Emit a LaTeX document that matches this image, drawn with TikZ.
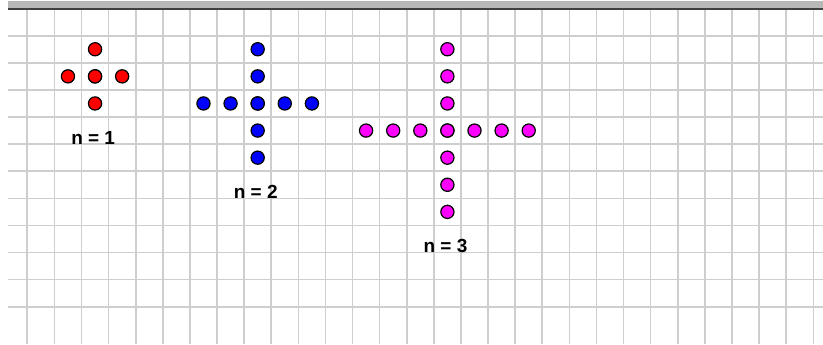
\documentclass[tikz,border=0pt]{standalone}
\usepackage{fontspec}
\setmainfont{Liberation Sans}
\usepackage{xcolor}
\usepackage{tikz}
\usetikzlibrary{positioning, calc}

\definecolor{gridgray}{RGB}{206,206,206}
\definecolor{bargray}{RGB}{184,184,184}
\definecolor{bardark}{RGB}{64,64,64}
\definecolor{dotred}{RGB}{255,0,0}
\definecolor{dotblue}{RGB}{0,0,255}
\definecolor{dotpink}{RGB}{255,0,255}

\begin{document}
\begin{tikzpicture}[x=6.775mm, y=-6.775mm,
    gridline/.style={draw=gridgray, line width=0.4mm},
    dot/.style={circle, draw=black, line width=0.3mm, inner sep=0pt, minimum size=3.3mm},
    lbl/.style={font=\fontsize{13.5}{15}\selectfont\bfseries, inner sep=0pt}]
  \useasboundingbox (-1.007, -0.317) rectangle (29.358, 12.376);
  % top bar
  \fill[bargray] (-0.71, -0.28) rectangle (29.358, 0);
  \draw[bardark, line width=0.5mm] (-0.71, 0) -- (29.358, 0);
  % grid
  \foreach \k in {0,...,29}
    \draw[gridline] (\k, 0.04) -- (\k, 12.376);
  \foreach \j in {1,...,11}
    \draw[gridline] (-0.71, \j) -- (29.358, \j);
  % crosses
  \foreach \n/\cx/\col in {1/2.5/dotred, 2/8.5/dotblue, 3/15.5/dotpink} {
    \pgfmathsetmacro{\cy}{1.5+\n}
    \foreach \k in {-\n,...,\n} {
      \node[dot, fill=\col] (v\n\k) at (\cx, \cy+\k) {};
      \node[dot, fill=\col] (h\n\k) at (\cx+\k, \cy) {};
    }
    \node[lbl, anchor=base] (lab\n) at (\cx-0.07, 2*\n+3) {n = \n};
  }
\end{tikzpicture}
\end{document}
